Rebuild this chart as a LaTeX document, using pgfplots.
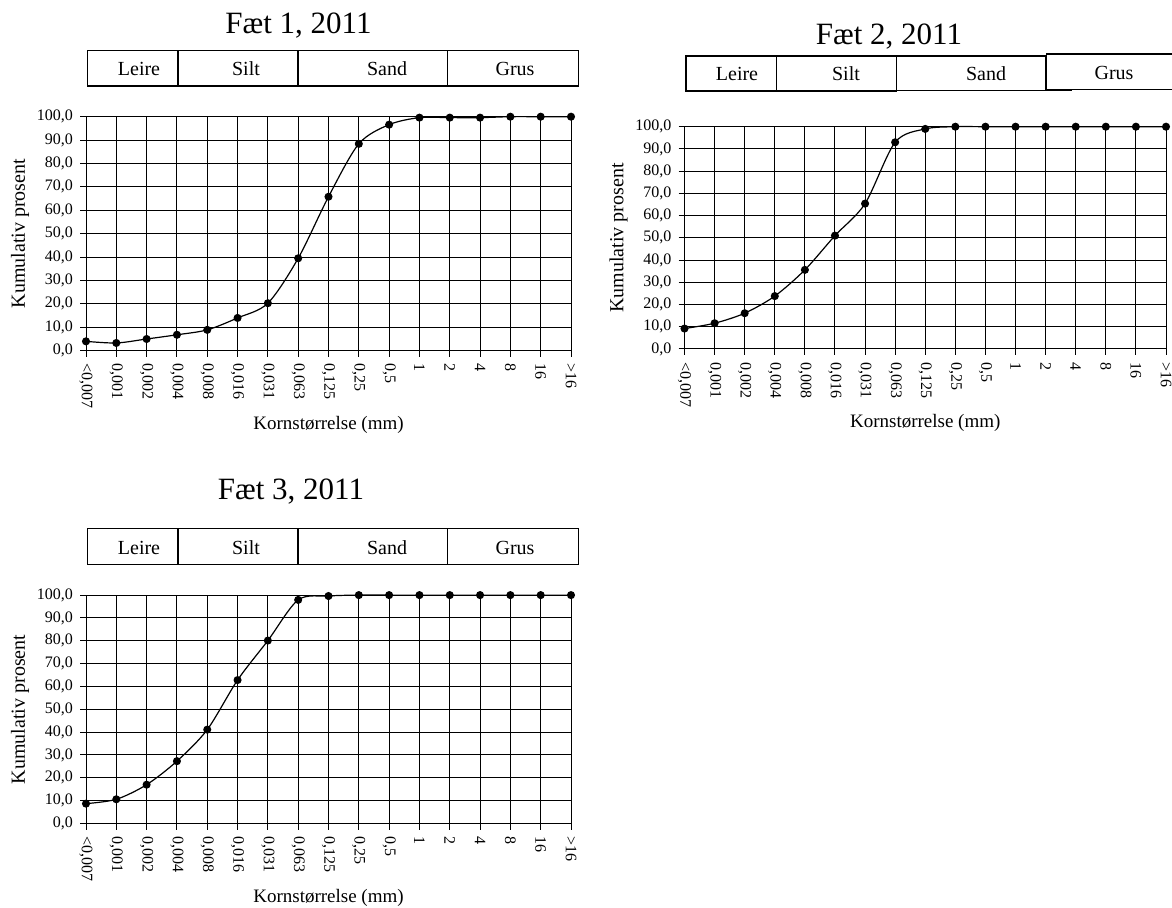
\documentclass[border=0pt]{standalone}
\usepackage{fontspec}
\setmainfont{Liberation Serif}
\usepackage{pgfplots}
\pgfplotsset{compat=1.18}

\pgfplotsset{
  kornplot/.style={
    scale only axis, anchor=south west,
    xmin=0, xmax=16, ymin=0, ymax=100,
    xtick={0,...,16},
    xticklabels={{<0,007},{0,001},{0,002},{0,004},{0,008},{0,016},{0,031},{0,063},{0,125},{0,25},{0,5},{1},{2},{4},{8},{16},{>16}},
    ytick={0,10,...,100},
    yticklabels={{0,0},{10,0},{20,0},{30,0},{40,0},{50,0},{60,0},{70,0},{80,0},{90,0},{100,0}},
    grid=major, major grid style={black, line width=0.5pt},
    axis line style={black, line width=0.5pt},
    tick style={black, line width=0.5pt},
    tick align=outside, major tick length=3pt,
    xtick pos=left, ytick pos=left,
    x tick label style={rotate=-90, anchor=west, font=\fontsize{8}{9}\selectfont},
    y tick label style={font=\fontsize{8}{9}\selectfont},
    xlabel={Kornstørrelse (mm)}, ylabel={Kumulativ prosent},
    xlabel style={at={(axis description cs:0.5,0)}, anchor=base, yshift=-39.3pt,
                  inner sep=0pt, font=\fontsize{9.5}{11}\selectfont},
    ylabel style={yshift=-3pt, font=\fontsize{10}{12}\selectfont},
    clip=false,
  },
  kornline/.style={black, line width=0.6pt, smooth, mark=*, mark size=1.7pt, mark options={solid}},
}

\begin{document}
\begin{tikzpicture}
\path[use as bounding box] (0pt,0pt) rectangle (586pt,-454pt);

% Fæt 1
\begin{axis}[kornplot, at={(43pt,-175.35pt)}, width=242.5pt, height=117pt]
\addplot[kornline] coordinates {
  (0,4.0) (1,3.3) (2,5.0) (3,6.8) (4,8.9) (5,14.0) (6,20.3) (7,39.5) (8,65.8)
  (9,88.4) (10,96.6) (11,99.6) (12,99.6) (13,99.6) (14,100) (15,100) (16,100)
};
\end{axis}

% Fæt 2
\begin{axis}[kornplot, at={(342.25pt,-174.5pt)}, width=240.75pt, height=111.15pt]
\addplot[kornline] coordinates {
  (0,9.2) (1,11.6) (2,16.1) (3,23.8) (4,35.6) (5,51.0) (6,65.4) (7,93.0) (8,99.0)
  (9,100) (10,100) (11,100) (12,100) (13,100) (14,100) (15,100) (16,100)
};
\end{axis}

% Fæt 3
\begin{axis}[kornplot, at={(43pt,-411.75pt)}, width=242.5pt, height=114.2pt]
\addplot[kornline] coordinates {
  (0,8.7) (1,10.6) (2,17.0) (3,27.3) (4,41.1) (5,62.8) (6,80.1) (7,97.9) (8,99.6)
  (9,100) (10,100) (11,100) (12,100) (13,100) (14,100) (15,100) (16,100)
};
\end{axis}

% titles and fraction boxes, in pixel units of the reference
\begin{scope}[x=0.5pt, y=-0.5pt, line width=0.6pt]
  \tikzset{tit/.style={anchor=base, font=\fontsize{15.5}{18}\selectfont, inner sep=0pt},
           lab/.style={anchor=base, font=\fontsize{10}{12}\selectfont, inner sep=0pt}}
  \node[tit] at (298.5,34) {Fæt 1, 2011};
  \node[tit] at (889,45) {Fæt 2, 2011};
  \node[tit] at (291,500) {Fæt 3, 2011};

  % Fæt 1
  \draw (87.3,50.7) rectangle (178,86);
  \draw (178,50.7) rectangle (298,86);
  \draw (298,50.7) rectangle (447.7,86);
  \draw (447.7,50.7) rectangle (578.7,86);
  \node[lab] at (139,76) {Leire};
  \node[lab] at (246,76) {Silt};
  \node[lab] at (387,76) {Sand};
  \node[lab] at (515,76) {Grus};

  % Fæt 3
  \draw (87.3,528.7) rectangle (178,564.3);
  \draw (178,528.7) rectangle (298,564.3);
  \draw (298,528.7) rectangle (447.7,564.3);
  \draw (447.7,528.7) rectangle (578.7,564.3);
  \node[lab] at (139,554) {Leire};
  \node[lab] at (246,554) {Silt};
  \node[lab] at (387,554) {Sand};
  \node[lab] at (515,554) {Grus};

  % Fæt 2
  \draw (686,56) rectangle (776.7,91);
  \draw (776.7,56) rectangle (896.7,91);
  \draw (896.7,56) rectangle (1045.7,90.7);
  \draw (1045.7,90.7) -- (1071.7,90.7);
  \draw (1180,54) -- (1046.7,54) -- (1046.7,89.3) -- (1180,89.3);
  \node[lab] at (737,81) {Leire};
  \node[lab] at (846,81) {Silt};
  \node[lab] at (986,81) {Sand};
  \node[lab] at (1114,80) {Grus};
\end{scope}
\end{tikzpicture}
\end{document}
